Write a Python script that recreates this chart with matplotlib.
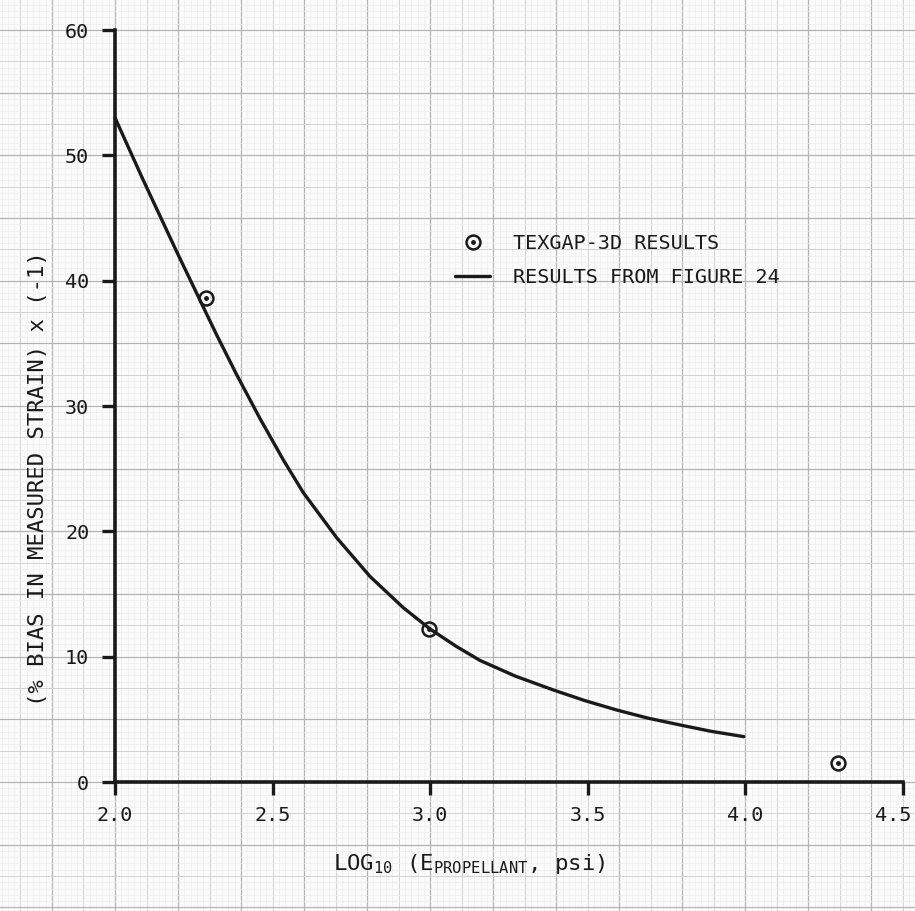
import numpy as np
import matplotlib
matplotlib.use("Agg")
import matplotlib.pyplot as plt
import matplotlib.transforms as mtransforms
from matplotlib.legend_handler import HandlerTuple

plt.rcParams["font.family"] = ["DejaVu Sans Mono", "DejaVu Sans"]
plt.rcParams["mathtext.default"] = "regular"

curve_x = [2.0, 2.09, 2.196, 2.28, 2.322, 2.386, 2.46, 2.534, 2.597, 2.703,
           2.809, 2.915, 3.0, 3.084, 3.158, 3.27, 3.391, 3.49, 3.591, 3.69,
           3.793, 3.89, 3.995]
curve_y = [53.0, 48.0, 42.3, 37.9, 35.7, 32.5, 29.0, 25.7, 23.1, 19.5,
           16.4, 13.9, 12.2, 10.8, 9.7, 8.45, 7.34, 6.5, 5.75, 5.1,
           4.55, 4.05, 3.62]

# TEXGAP-3D points
pts_x = [2.29, 2.995, 4.295]
pts_y = [38.6, 12.2, 1.5]

xticks = [2.0, 2.5, 3.0, 3.5, 4.0, 4.5]
yticks = [0, 10, 20, 30, 40, 50, 60]

ink = "#1a1a1a"
fs = 14.5

fig = plt.figure(figsize=(9.15, 9.11), dpi=100, facecolor="#fbfbfb")
L, B, W, H = 115 / 915, 129 / 911, 788 / 915, 752 / 911
ax = fig.add_axes([L, B, W, H])
ax.set_xlim(2.0, 4.5)
ax.set_ylim(0, 60)
ax.patch.set_alpha(0)

# graph paper behind everything, same scale as the axes
bg = fig.add_axes([0, 0, 1, 1], zorder=-1)
x0 = 2.0 - L / W * 2.5
x1 = 2.0 + (1 - L) / W * 2.5
y0 = 0 - B / H * 60
y1 = 60 + (1 - B - H) / H * 60
bg.set_xlim(x0, x1)
bg.set_ylim(y0, y1)
bg.axis("off")

styles = {0: ("#b4b4b4", 0.9), 5: ("#d2d2d2", 0.7), 1: ("#ededed", 0.5)}
for k in range(int(np.floor(x0 / 0.02)), int(np.ceil(x1 / 0.02)) + 1):
    c, w = styles[0] if k % 10 == 0 else styles[5] if k % 5 == 0 else styles[1]
    bg.axvline(k * 0.02, color=c, lw=w)
for k in range(int(np.floor(y0 / 0.5)), int(np.ceil(y1 / 0.5)) + 1):
    c, w = styles[0] if k % 10 == 0 else styles[5] if k % 5 == 0 else styles[1]
    bg.axhline(k * 0.5, color=c, lw=w)

line, = ax.plot(curve_x, curve_y, color=ink, lw=2.4, solid_capstyle="round",
                solid_joinstyle="round", clip_on=False, zorder=3)
ring, = ax.plot(pts_x, pts_y, "o", ms=10, mfc="none", mec=ink, mew=1.8,
                clip_on=False, zorder=4)
dot, = ax.plot(pts_x, pts_y, "o", ms=2.5, color=ink, clip_on=False, zorder=4)

for s in ["top", "right"]:
    ax.spines[s].set_visible(False)
for s in ["left", "bottom"]:
    ax.spines[s].set_linewidth(2.6)
    ax.spines[s].set_color(ink)

ax.set_xticks(xticks)
ax.set_xticklabels([f"{t:.1f}" for t in xticks])
ax.set_yticks(yticks)
ax.tick_params(direction="out", length=9.5, width=2.4, color=ink,
               labelsize=fs, labelcolor=ink)
ax.tick_params(axis="x", pad=8)
ax.tick_params(axis="y", pad=9)
# last x label sits at the paper edge
last = ax.get_xticklabels()[-1]
last.set_transform(last.get_transform() +
                   mtransforms.ScaledTranslation(-10 / 100, 0, fig.dpi_scale_trans))

ax.set_ylabel("(% BIAS IN MEASURED STRAIN) x (-1)", fontsize=16, color=ink)
ax.yaxis.set_label_coords(-0.085, 0.403)
ax.set_xlabel(r"LOG$_{\mathregular{10}}$ (E$_{\mathregular{PROPELLANT}}$, psi)",
              fontsize=16, color=ink)
ax.xaxis.set_label_coords(0.449, -0.093)

ax.legend([(ring, dot), line],
          ["TEXGAP-3D RESULTS", "RESULTS FROM FIGURE 24"],
          handler_map={tuple: HandlerTuple(ndivide=1)},
          loc="upper left", bbox_to_anchor=(0.4315, 0.729),
          frameon=False, fontsize=fs, labelcolor=ink,
          handlelength=1.75, handletextpad=1.15, labelspacing=0.75,
          borderpad=0, borderaxespad=0)

fig.savefig("out.png", dpi=100, facecolor=fig.get_facecolor())
